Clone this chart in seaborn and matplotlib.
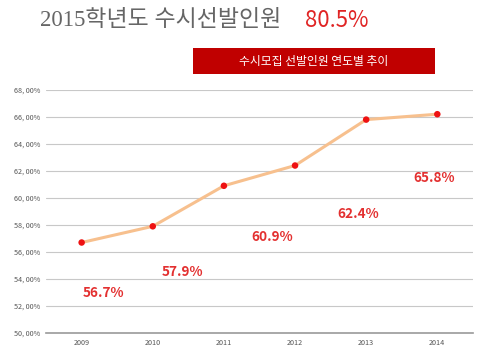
import matplotlib
matplotlib.use("Agg")
import matplotlib.pyplot as plt
from matplotlib.patches import Rectangle
import seaborn as sns

years = ["2009", "2010", "2011", "2012", "2013", "2014"]
rates = [56.7, 57.9, 60.9, 62.4, 65.8, 66.2]
label_texts = ["56.7%", "57.9%", "60.9%", "62.4%", "65.8%"]
yticks = [50, 52, 54, 56, 58, 60, 62, 64, 66, 68]

# where the value labels sit (category units, y units)
label_pos = [(0.31, 52.96), (1.41, 54.5), (2.68, 57.1), (3.89, 58.8), (4.96, 61.5)]

sns.set_theme(style="white")
plt.rcParams['font.family'] = ['Noto Sans CJK KR', 'DejaVu Sans']

fig = plt.figure(figsize=(4.85, 3.57), dpi=100)
ax = fig.add_axes([0.095, 0.0672, 0.88, 0.681])

for t in yticks[1:]:
    ax.axhline(t, color="#c8c8c8", lw=0.8, zorder=0)

sns.lineplot(x=years, y=rates, color="#f7c08e", lw=2.2, ax=ax, zorder=2, sort=False)
sns.scatterplot(x=years, y=rates, color="#ee1111", s=22, edgecolor="none", ax=ax, zorder=3)

for txt, (lx, ly) in zip(label_texts, label_pos):
    ax.text(lx, ly, txt, color="#e33030", fontsize=9.8, fontweight="bold",
            ha="center", va="center")

ax.set_xlim(-0.5, 5.5)
ax.set_ylim(50, 68)
ax.set_yticks(yticks)
ax.set_yticklabels(["%d, 00%%" % t for t in yticks], fontsize=5.2, color="#555555")
ax.tick_params(axis="x", labelsize=5.2, labelcolor="#555555", length=0, pad=4)
ax.tick_params(axis="y", length=0, pad=4)
ax.set_xlabel("")
ax.set_ylabel("")
for s in ["top", "right", "left"]:
    ax.spines[s].set_visible(False)
ax.spines["bottom"].set_color("#999999")
ax.spines["bottom"].set_linewidth(1.2)

fig.text(0.082, 0.943, "2015학년도 수시선발인원", fontsize=16.5, color="#666666",
         ha="left", va="center", family=['Liberation Serif', 'Noto Sans CJK KR'])
fig.text(305 / 485, 0.943, "80.5%", fontsize=16, color="#e02424", ha="left", va="center")

fig.patches.append(Rectangle((193 / 485, 1 - 74 / 357), 242 / 485, 26 / 357,
                             transform=fig.transFigure, facecolor="#c00000",
                             edgecolor="none"))
fig.text(314 / 485, 1 - 61 / 357, "수시모집 선발인원 연도별 추이", fontsize=8.5,
         color="white", ha="center", va="center")

fig.savefig("out.png", dpi=100)
